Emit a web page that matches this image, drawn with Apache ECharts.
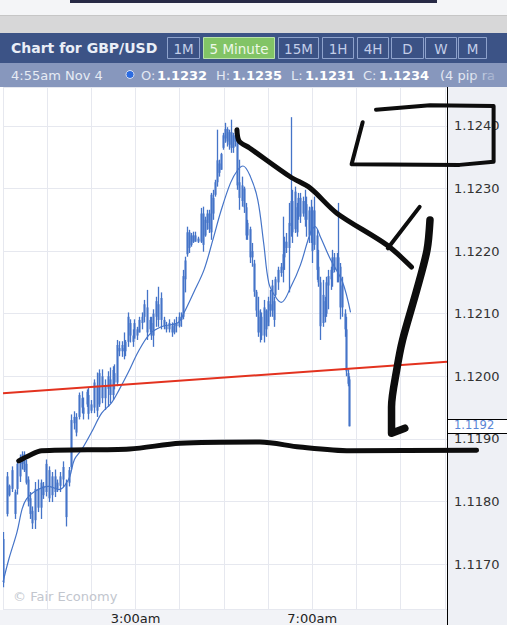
<!DOCTYPE html>
<html><head><meta charset="utf-8">
<script src="https://cdn.jsdelivr.net/npm/echarts@6/dist/echarts.min.js"></script>
<style>html,body{margin:0;padding:0;background:#fff}#c{width:507px;height:625px}</style>
</head><body><div id="c"></div>
<script>
// bar times, minutes after 0:00
var times = [0,5,8,12,16,19,23,26,28,31,
34,36,39,43,47,51,55,58,62,66,
70,74,77,81,85,89,93,96,99,103,
107,109,114,116,120,124,128,131,134,138,
142,145,149,151,155,158,161,164,166,170,
173,176,178,182,185,189,192,196,199,201,
204,208,211,214,218,222,226,230,232,235,
239,242,245,247,250,253,255,258,261,265,
269,272,274,277,280,282,285,288,291,293,
296,299,301,304,307,310,312,315,318,320,
324,327,330,332,335,338,341,343,346,349,
351,354,357,360,362,365,368,370,374,377,
380,382,385,388,391,393,396,399,401,404,
407,410,412,415,418,420,423,426,428,431,
434,437,439,442,445,447,450,453,455,458,
461,464,466,468,470];
var opens = [1.1167,1.1178,1.11825,1.1182,1.11815,1.1182,1.1184,1.1186,1.11875,1.1186,
1.11835,1.11805,1.11785,1.1177,1.1182,1.1179,1.11825,1.11815,1.1185,1.1181,
1.1184,1.1182,1.11825,1.11835,1.1183,1.1183,1.11855,1.11925,1.11935,1.11935,
1.11965,1.1195,1.11955,1.1197,1.11945,1.1195,1.11985,1.11955,1.12,1.11965,
1.1198,1.11995,1.1197,1.12005,1.1199,1.12045,1.1204,1.12045,1.1204,1.12055,
1.12085,1.12065,1.1206,1.12075,1.1207,1.12085,1.12095,1.1211,1.12075,1.12085,
1.12065,1.12095,1.12115,1.1209,1.1209,1.1208,1.12075,1.1208,1.1207,1.12085,
1.1208,1.12095,1.12095,1.12155,1.12195,1.1223,1.1221,1.12225,1.12215,1.1222,
1.12215,1.1226,1.12225,1.12245,1.1226,1.1223,1.12285,1.1229,1.1231,1.1234,
1.1233,1.12365,1.1238,1.12395,1.1237,1.1239,1.12365,1.12385,1.1238,1.1231,
1.1228,1.123,1.1227,1.12225,1.12235,1.1219,1.1218,1.12135,1.12105,1.1207,
1.12095,1.12065,1.12105,1.1208,1.12115,1.12105,1.1212,1.1213,1.1215,1.12165,
1.1217,1.1219,1.12215,1.12205,1.1224,1.1228,1.12235,1.1227,1.12255,1.12285,
1.1226,1.1228,1.1225,1.12265,1.12225,1.12265,1.1221,1.12225,1.12175,1.1215,
1.12085,1.1212,1.121,1.12145,1.12155,1.12165,1.1219,1.1217,1.1219,1.12175,
1.1211,1.121,1.12075,1.12005,1.11995];
var highs = [1.11751,1.11847,1.11827,1.11856,1.11819,1.11863,1.11875,1.1188,1.1188,1.11867,
1.1184,1.11815,1.11792,1.11831,1.11835,1.11835,1.11831,1.11867,1.11856,1.11847,
1.11851,1.11835,1.11847,1.11864,1.11835,1.11855,1.11939,1.11944,1.11941,1.11974,
1.11976,1.11966,1.11979,1.11982,1.11962,1.11995,1.12006,1.12011,1.12011,1.11995,
1.12008,1.12014,1.12016,1.12019,1.12058,1.12056,1.12056,1.1207,1.12058,1.12102,
1.12091,1.12075,1.12091,1.12079,1.12095,1.12102,1.12122,1.12138,1.12095,1.12095,
1.12107,1.12127,1.12143,1.12134,1.12095,1.12087,1.12091,1.12086,1.12091,1.12095,
1.12102,1.12102,1.1217,1.12191,1.12239,1.12234,1.12229,1.12231,1.12231,1.12223,
1.12269,1.12271,1.12255,1.12266,1.12266,1.12293,1.12298,1.12314,1.12394,1.12346,
1.12357,1.12389,1.12405,1.12398,1.12394,1.1241,1.12389,1.12394,1.12394,1.12346,
1.12319,1.12303,1.12277,1.1225,1.12239,1.12213,1.12186,1.12138,1.12127,1.12107,
1.12102,1.12122,1.12107,1.12127,1.12138,1.12154,1.12127,1.12159,1.12175,1.12181,
1.12255,1.12223,1.12229,1.12277,1.12414,1.12298,1.12303,1.12277,1.12293,1.12293,
1.12287,1.12298,1.12287,1.12271,1.12282,1.12271,1.12287,1.12234,1.12202,1.12159,
1.12154,1.12127,1.12159,1.1217,1.12175,1.12202,1.12197,1.12197,1.12277,1.12181,
1.12159,1.12107,1.12095,1.12011,1.12];
var lows = [1.11663,1.11776,1.11808,1.11815,1.11772,1.11811,1.11831,1.11851,1.11847,1.11827,
1.11792,1.11772,1.11756,1.11756,1.11783,1.11772,1.11804,1.11808,1.11799,1.11799,
1.11807,1.11815,1.11815,1.11823,1.1176,1.11824,1.11851,1.11915,1.11904,1.11931,
1.11941,1.11931,1.11951,1.11931,1.11941,1.11941,1.11935,1.11951,1.11957,1.11946,
1.11951,1.11957,1.11962,1.11979,1.11984,1.12032,1.12031,1.12027,1.12032,1.12047,
1.12054,1.12047,1.12063,1.12058,1.1207,1.12075,1.12086,1.12058,1.1207,1.12058,
1.12047,1.12079,1.12079,1.12075,1.12075,1.1207,1.1207,1.12063,1.12067,1.1207,
1.12078,1.12079,1.12091,1.12134,1.12191,1.12197,1.12207,1.12213,1.12215,1.12213,
1.12213,1.12199,1.12223,1.12234,1.12229,1.12218,1.1225,1.12287,1.12303,1.12319,
1.1233,1.12362,1.12373,1.12367,1.12362,1.12357,1.12357,1.12367,1.12298,1.12266,
1.12271,1.12261,1.12218,1.12218,1.12181,1.12175,1.12127,1.12095,1.12063,1.12054,
1.12058,1.12054,1.12063,1.12086,1.12095,1.12095,1.12079,1.12127,1.12138,1.12159,
1.1215,1.1217,1.12197,1.12134,1.12223,1.12213,1.12229,1.12223,1.1225,1.12245,
1.12255,1.12239,1.12223,1.12213,1.12213,1.12181,1.12202,1.12154,1.12143,1.12058,
1.12079,1.12086,1.12095,1.12107,1.12138,1.12143,1.12166,1.1215,1.1215,1.12091,
1.12095,1.12063,1.12,1.11984,1.1192];
var closes = [1.1174,1.1184,1.1181,1.1185,1.1178,1.1186,1.1187,1.11875,1.1185,1.1183,
1.118,1.1178,1.11765,1.1182,1.1179,1.1183,1.1181,1.1186,1.11805,1.1184,
1.11815,1.1183,1.1184,1.11855,1.11775,1.1185,1.1193,1.11935,1.1191,1.1197,
1.1195,1.1194,1.11975,1.1194,1.11955,1.1199,1.11945,1.12005,1.11965,1.11985,
1.12,1.1197,1.1201,1.1199,1.1205,1.1204,1.1205,1.1204,1.12055,1.12095,
1.12065,1.12055,1.12085,1.12065,1.1209,1.12095,1.12115,1.1207,1.1209,1.12065,
1.121,1.1212,1.1209,1.12125,1.1208,1.12075,1.12085,1.1207,1.12085,1.1208,
1.12095,1.1209,1.1216,1.12185,1.1223,1.12205,1.12225,1.12215,1.12225,1.12215,
1.1226,1.1221,1.1225,1.1226,1.12235,1.1229,1.1226,1.1231,1.12345,1.12325,
1.12355,1.12385,1.12395,1.12375,1.1239,1.12365,1.12385,1.12375,1.12305,1.12285,
1.12305,1.1227,1.12225,1.12245,1.1219,1.122,1.12135,1.12105,1.1207,1.12095,
1.12065,1.1211,1.12075,1.1212,1.12105,1.12145,1.1209,1.12155,1.1217,1.12175,
1.12195,1.12215,1.12205,1.12245,1.1228,1.1223,1.12295,1.1223,1.12285,1.12255,
1.1228,1.1225,1.12275,1.12225,1.1227,1.122,1.12265,1.1217,1.1215,1.1208,
1.1213,1.12095,1.1215,1.1216,1.1217,1.1219,1.1217,1.1219,1.12175,1.1211,
1.12145,1.12075,1.12008,1.11988,1.1192];

// moving average line
var maTimes = [0,8,19,26,32,43,62,76,89,97,107,120,134,147,158,170,184,199,215,238,246,259,273,285,296,309,319,326,336,346,354,361,370,378,391,404,418,424,431,445,461,472];
var maValues = [1.11671,1.11708,1.11751,1.11788,1.11804,1.11816,1.11824,1.11819,1.11835,1.11867,1.11883,1.1191,1.11941,1.11957,1.11979,1.12006,1.1204,1.12067,1.12079,1.12086,1.12102,1.12134,1.1217,1.12218,1.12264,1.12309,1.1233,1.12336,1.12319,1.12282,1.12213,1.12149,1.12127,1.12118,1.12143,1.12178,1.12231,1.12239,1.12223,1.12186,1.12151,1.12102];

// red trend line
var trendTimes = [0, 603];
var trendValues = [1.11973, 1.12023];

// hand-drawn annotations [minutes, price]
var supportStroke = [[24,1.11866],[39,1.11875],[55,1.11882],[174,1.11885],[242,1.11894],[350,1.11896],[404,1.11888],[472,1.11882],[643,1.11883]];
var downStroke = [[319,1.12394],[322,1.12376],[336,1.12365],[391,1.12319],[418,1.12301],[454,1.12261],[522,1.1221],[555,1.12175]];
var tickStroke = [[523,1.12205],[566,1.12271]];
var boxStroke = [[489,1.12406],[474,1.12339],[620,1.12338],[666,1.12343],[666,1.12432],[580,1.12433],[507,1.12426]];
var bigStroke = [[580,1.1225],[576,1.12202],[562,1.12138],[543,1.12059],[535,1.12011],[528,1.11952],[528,1.1191],[546,1.11918]];

var xTickValues = [180, 420];
var xTickLabels = ['3:00am', '7:00am'];
var yMin = 1.116281, yMax = 1.124622;
var xMin = 0, xMax = 603;
var lastPrice = 1.1192;

var BAR = '#4574c8';
var PLOT_W = 446, FULL_W = 506;
var chart = echarts.init(document.getElementById('c'), null, {renderer: 'svg', width: 507, height: 625});

var candleData = times.map(function (t, i) { return [t, opens[i], closes[i], lows[i], highs[i]]; });
var maData = maTimes.map(function (t, i) { return [t, maValues[i]]; });
var trendData = trendTimes.map(function (t, i) { return [t, trendValues[i]]; });

function stroke(data, w, smooth) {
  return {type: 'line', xAxisIndex: 1, yAxisIndex: 1, data: data, showSymbol: false, symbol: 'none', smooth: smooth,
    clip: false, silent: true, z: 10,
    lineStyle: {color: '#0d0d0d', width: w, cap: 'round', join: 'round'}};
}

var option = {
  animation: false,
  backgroundColor: '#ffffff',
  textStyle: {fontFamily: 'DejaVu Sans'},
  grid: [
    {left: 1, width: PLOT_W, top: 87, bottom: 15},
    {left: 1, width: FULL_W, top: 87, bottom: 15}
  ],
  xAxis: [{
    type: 'value', gridIndex: 0, min: xMin, max: xMax, interval: 60,
    axisLine: {show: false}, axisTick: {show: false},
    splitLine: {show: true, lineStyle: {color: '#e6e8ef', width: 1}},
    axisLabel: {
      margin: 3, color: '#222', fontSize: 13, showMaxLabel: false,
      formatter: function (v) { var k = xTickValues.indexOf(v); return k >= 0 ? xTickLabels[k] : ''; }
    }
  }, {
    type: 'value', gridIndex: 1, show: false, min: xMin, max: xMax * FULL_W / PLOT_W, splitLine: {show: false}
  }],
  yAxis: [{
    type: 'value', gridIndex: 0, position: 'right', min: yMin, max: yMax, splitNumber: 8, scale: true,
    axisLine: {show: false}, axisTick: {show: false},
    splitLine: {show: true, lineStyle: {color: '#e6e8ef', width: 1}},
    axisLabel: {
      margin: 7, color: '#333', fontSize: 13, showMinLabel: false, showMaxLabel: false,
      formatter: function (v) { return Math.abs(v * 1000 - Math.round(v * 1000)) < 1e-6 ? v.toFixed(4) : ''; }
    }
  }, {
    type: 'value', gridIndex: 1, show: false, min: yMin, max: yMax, scale: true, splitLine: {show: false}
  }],
  series: [
    {
      type: 'custom', data: candleData, encode: {x: 0, y: [1, 2, 3, 4]}, z: 3, clip: true,
      renderItem: function (params, api) {
        var t = api.value(0);
        var pO = api.coord([t, api.value(1)]);
        var pC = api.coord([t, api.value(2)]);
        var pL = api.coord([t, api.value(3)]);
        var pH = api.coord([t, api.value(4)]);
        var x = Math.round(pO[0]);
        var top = Math.min(pO[1], pC[1]), bot = Math.max(pO[1], pC[1]);
        return {type: 'group', children: [
          {type: 'line', shape: {x1: x + 0.5, y1: pH[1], x2: x + 0.5, y2: pL[1]}, style: {stroke: BAR, lineWidth: 1.3}},
          {type: 'rect', shape: {x: x - 0.5, y: top, width: 2, height: Math.max(bot - top, 1.2)}, style: {fill: BAR}}
        ]};
      }
    },
    {type: 'line', data: maData, smooth: 0.35, showSymbol: false, symbol: 'none', silent: true, z: 4,
      lineStyle: {color: BAR, width: 1.2}},
    {type: 'line', data: trendData, showSymbol: false, symbol: 'none', silent: true, z: 5,
      lineStyle: {color: '#e3321f', width: 2}},
    stroke(supportStroke, 5, 0.3),
    stroke(downStroke, 5, 0.3),
    stroke(tickStroke, 4, false),
    stroke(boxStroke, 4, false),
    stroke(bigStroke, 7.5, 0.3)
  ]
};
chart.setOption(option);

var py = chart.convertToPixel({yAxisIndex: 0}, lastPrice);
var els = [];
function R(id, x, y, w, h, fill, z, extra) {
  var e = {type: 'rect', id: id, z: z || 0, silent: true, shape: {x: x, y: y, width: w, height: h}, style: {fill: fill}};
  if (extra) { for (var k in extra) e.style[k] = extra[k]; }
  els.push(e);
}
function T(id, x, y, text, fill, font, align, z) {
  els.push({type: 'text', id: id, z: z || 1, silent: true, x: x, y: y,
    style: {text: text, fill: fill, font: font, textAlign: align || 'left', textVerticalAlign: 'middle', verticalAlign: 'middle'}});
}
R('topLight', 0, 0, 507, 15, '#f4f5f7', -5);
R('topDark', 70, 0, 367, 3, '#272a45', -4);
R('hatchLine', 0, 15, 507, 1, '#c6c6c6', -4);
R('hatch', 0, 16, 507, 17, '#d7d7d8', -4);
R('header', 0, 33, 507, 30, '#3c5386', -4);
R('info', 0, 63, 507, 24, '#8797bd', -4);
R('panel', 447, 87, 60, 538, '#eef0f5', -5);
R('band', 0, 610, 447, 15, '#f2f3f7', -5);
T('title', 11, 48, 'Chart for GBP/USD', '#eaeef7', 'bold 14px "DejaVu Sans"');
var buttons = [['1M', 167, 199], ['5 Minute', 203, 274], ['15M', 278, 318], ['1H', 322, 353], ['4H', 357, 388], ['D', 391, 423], ['W', 425, 456], ['M', 458, 486]];
buttons.forEach(function (b, i) {
  var active = i === 1;
  R('btn' + i, b[1] + 0.5, 37.5, b[2] - b[1], 21, active ? '#82c466' : '#3b5285', 0,
    {stroke: active ? '#b9e2a8' : '#8ea2cc', lineWidth: 1});
  T('btnT' + i, (b[1] + b[2]) / 2 + 0.5, 48.5, b[0], active ? '#eef8e8' : '#c3cee8', '13.5px "DejaVu Sans"', 'center', 2);
});
T('date', 11, 75, '4:55am Nov 4', '#e6ebf4', '13px "DejaVu Sans"');
els.push({type: 'circle', id: 'dot', z: 1, silent: true, shape: {cx: 130, cy: 74.5, r: 4}, style: {fill: '#2c6be0', stroke: '#d7e0f3', lineWidth: 1}});
var info = [['O:', 141, 0], ['1.1232', 157, 1], ['H:', 216, 0], ['1.1235', 232, 1], ['L:', 291, 0], ['1.1231', 305, 1], ['C:', 363, 0], ['1.1234', 379, 1], ['(4 pip ra', 440, 0]];
info.forEach(function (s, i) {
  T('inf' + i, s[1], 75, s[0], s[2] ? '#ffffff' : '#e3e8f2', (s[2] ? 'bold ' : '') + '13px "DejaVu Sans"');
});
els.push({type: 'rect', id: 'fade', z: 3, silent: true, shape: {x: 470, y: 63, width: 37, height: 24},
  style: {fill: {type: 'linear', x: 0, y: 0, x2: 1, y2: 0, colorStops: [{offset: 0, color: 'rgba(135,151,189,0)'}, {offset: 0.9, color: 'rgba(135,151,189,0.95)'}]}}});
els.push({type: 'line', id: 'axisLine', z: 6, silent: true, shape: {x1: 447.5, y1: 87, x2: 447.5, y2: 625}, style: {stroke: '#000', lineWidth: 1}});
T('wm', 13, 596, '\u00a9 Fair Economy', '#c2c6ce', '13px "DejaVu Sans"');
var by = Math.round(py) - 7;
R('priceBox', 447.5, by + 0.5, 62, 14, '#ffffff', 5, {stroke: '#000', lineWidth: 1});
T('priceTxt', 454, py - 1, lastPrice.toFixed(4), '#5a86d6', '11.5px "DejaVu Sans"', 'left', 6);
chart.setOption({graphic: {elements: els}});
</script>
</body></html>
